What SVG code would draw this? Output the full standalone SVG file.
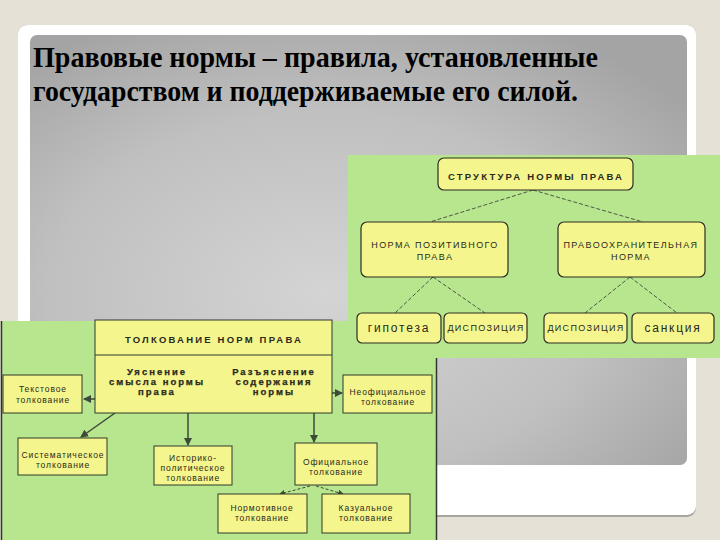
<svg xmlns="http://www.w3.org/2000/svg" width="720" height="540" viewBox="0 0 720 540">
<style>
.title{font-family:"Liberation Serif","Times New Roman",serif;font-weight:bold;font-size:30px;fill:#000}
.box{fill:#F4F58C;stroke:#2E3A2A;stroke-width:1}
.rbox{fill:#F4F58C;stroke:#2E2E22;stroke-width:1.2}
.cap{font-family:"Liberation Sans",Arial,sans-serif;font-size:9px;fill:#2A2A20;text-anchor:middle;letter-spacing:1.4px}
.capd{font-family:"Liberation Sans",Arial,sans-serif;font-size:9px;fill:#2A2A20;text-anchor:middle;letter-spacing:1.3px}
.capb{font-family:"Liberation Sans",Arial,sans-serif;font-size:9.5px;font-weight:bold;fill:#2A2A20;text-anchor:middle;letter-spacing:2.2px}
.low{font-family:"Liberation Sans",Arial,sans-serif;font-size:12px;fill:#2A2A20;text-anchor:middle;letter-spacing:1.8px}
.sm{font-family:"Liberation Sans",Arial,sans-serif;font-size:8.5px;fill:#2A2A20;text-anchor:middle;letter-spacing:0.9px}
.bold{font-family:"Liberation Sans",Arial,sans-serif;font-size:9.5px;font-weight:bold;fill:#2A2A20;text-anchor:middle;letter-spacing:2px;stroke:#2A2A20;stroke-width:0.25px}
.dash{stroke:#333;stroke-width:0.8;stroke-dasharray:4 2;fill:none}
.arr{stroke:#3C4A38;stroke-width:1.5;fill:none;marker-end:url(#ah)}
.darr{stroke:#3C4A38;stroke-width:1;stroke-dasharray:3 2;fill:none;marker-end:url(#ahs)}
</style>
<defs>
<radialGradient id="gp" cx="0.45" cy="0.6" r="0.7">
<stop offset="0" stop-color="#D4D4D4"/>
<stop offset="0.6" stop-color="#C0C0C0"/>
<stop offset="1" stop-color="#A4A4A4"/>
</radialGradient>
<marker id="ah" markerWidth="8" markerHeight="8" refX="7" refY="4" orient="auto" markerUnits="userSpaceOnUse">
<path d="M0,0 L8,4 L0,8 z" fill="#3C4A38"/>
</marker>
<marker id="ahs" markerWidth="6" markerHeight="6" refX="5" refY="3" orient="auto" markerUnits="userSpaceOnUse">
<path d="M0,0 L6,3 L0,6 z" fill="#3C4A38"/>
</marker>
</defs>
<rect width="720" height="540" fill="#E6E1D7"/>
<rect x="18" y="25" width="678" height="492" rx="9" fill="#A8A49E"/>
<rect x="18" y="25" width="678" height="490" rx="9" fill="#FFFFFF"/>
<rect x="30" y="35" width="657" height="430" rx="7" fill="url(#gp)"/>
<g id="title">
<text class="title" x="33" y="67" textLength="565" lengthAdjust="spacingAndGlyphs">Правовые нормы – правила, установленные</text>
<text class="title" x="33" y="101" textLength="545" lengthAdjust="spacingAndGlyphs">государством и поддерживаемые его силой.</text>
</g>
<g id="panel-interpretation">
<rect x="1" y="321" width="436" height="219" fill="#B8E68E"/>
<line x1="1.5" y1="321" x2="1.5" y2="540" stroke="#333" stroke-width="1.5"/>
<line x1="436.5" y1="358" x2="436.5" y2="540" stroke="#333" stroke-width="1.5"/>
</g>
<g id="tr-connectors">
<path class="arr" d="M95,399 L84,399"/>
<path class="arr" d="M332,393 L342,393"/>
<path class="arr" d="M115,413 L81,437"/>
<path class="arr" d="M188,413 L188,445"/>
<path class="arr" d="M314,413 L314,442"/>
<path class="darr" d="M310,486 L280,494"/>
<path class="darr" d="M316,486 L343,494"/>
</g>
<g id="n-tolkovanie">
<rect class="box" x="95" y="320" width="237" height="93"/>
<line x1="95" y1="355" x2="332" y2="355" stroke="#2E3A2A" stroke-width="1"/>
<text class="capb" x="214" y="343">ТОЛКОВАНИЕ НОРМ ПРАВА</text>
<text class="bold" x="157" y="375">Уяснение</text>
<text class="bold" x="157" y="385">смысла нормы</text>
<text class="bold" x="157" y="395">права</text>
<text class="bold" x="274" y="375">Разъяснение</text>
<text class="bold" x="274" y="385">содержания</text>
<text class="bold" x="274" y="395">нормы</text>
</g>
<g id="n-tekstovoe">
<rect class="box" x="3" y="375" width="79" height="38"/>
<text class="sm" x="43" y="392">Текстовое</text>
<text class="sm" x="43" y="403">толкование</text>
</g>
<g id="n-neofic">
<rect class="box" x="343" y="375" width="89" height="38"/>
<text class="sm" x="388" y="395">Неофициальное</text>
<text class="sm" x="388" y="405">толкование</text>
</g>
<g id="n-sistem">
<rect class="box" x="18" y="438" width="89" height="37"/>
<text class="sm" x="63" y="458">Систематическое</text>
<text class="sm" x="63" y="468">толкование</text>
</g>
<g id="n-istor">
<rect class="box" x="154" y="446" width="78" height="39"/>
<text class="sm" x="193" y="461">Историко-</text>
<text class="sm" x="193" y="471">политическое</text>
<text class="sm" x="193" y="481">толкование</text>
</g>
<g id="n-ofic">
<rect class="box" x="295" y="443" width="82" height="42"/>
<text class="sm" x="336" y="465">Официальное</text>
<text class="sm" x="336" y="475">толкование</text>
</g>
<g id="n-normativ">
<rect class="box" x="218" y="494" width="89" height="39"/>
<text class="sm" x="262" y="511">Нормотивное</text>
<text class="sm" x="262" y="521">толкование</text>
</g>
<g id="n-kazual">
<rect class="box" x="322" y="494" width="88" height="39"/>
<text class="sm" x="366" y="511">Казуальное</text>
<text class="sm" x="366" y="521">толкование</text>
</g>
<g id="panel-structure">
<rect x="348" y="155" width="372" height="203" fill="#B8E68E"/>
</g>
<g id="connectors">
<path class="dash" d="M533,190 L430,222 M533,190 L643,222"/>
<path class="dash" d="M433,277 L395,313 M433,277 L485,313"/>
<path class="dash" d="M630,277 L585,313 M630,277 L677,313"/>
</g>
<g id="n-struktura">
<rect class="rbox" x="438" y="158" width="195" height="32" rx="6"/>
<text class="capb" x="536" y="180">СТРУКТУРА НОРМЫ ПРАВА</text>
</g>
<g id="n-pozitiv">
<rect class="rbox" x="361" y="222" width="147" height="55" rx="6"/>
<text class="cap" x="435" y="248">НОРМА ПОЗИТИВНОГО</text>
<text class="cap" x="435" y="260">ПРАВА</text>
</g>
<g id="n-pravookhr">
<rect class="rbox" x="558" y="222" width="147" height="55" rx="6"/>
<text class="cap" x="631" y="248">ПРАВООХРАНИТЕЛЬНАЯ</text>
<text class="cap" x="631" y="260">НОРМА</text>
</g>
<g id="n-gipoteza">
<rect class="rbox" x="357" y="313" width="84" height="30" rx="5"/>
<text class="low" x="399" y="332">гипотеза</text>
</g>
<g id="n-dispoz1">
<rect class="rbox" x="444" y="313" width="83" height="30" rx="5"/>
<text class="capd" x="486" y="331">ДИСПОЗИЦИЯ</text>
</g>
<g id="n-dispoz2">
<rect class="rbox" x="544" y="313" width="83" height="30" rx="5"/>
<text class="capd" x="586" y="331">ДИСПОЗИЦИЯ</text>
</g>
<g id="n-sankcia">
<rect class="rbox" x="632" y="313" width="82" height="30" rx="5"/>
<text class="low" x="673" y="332">санкция</text>
</g>
</svg>
